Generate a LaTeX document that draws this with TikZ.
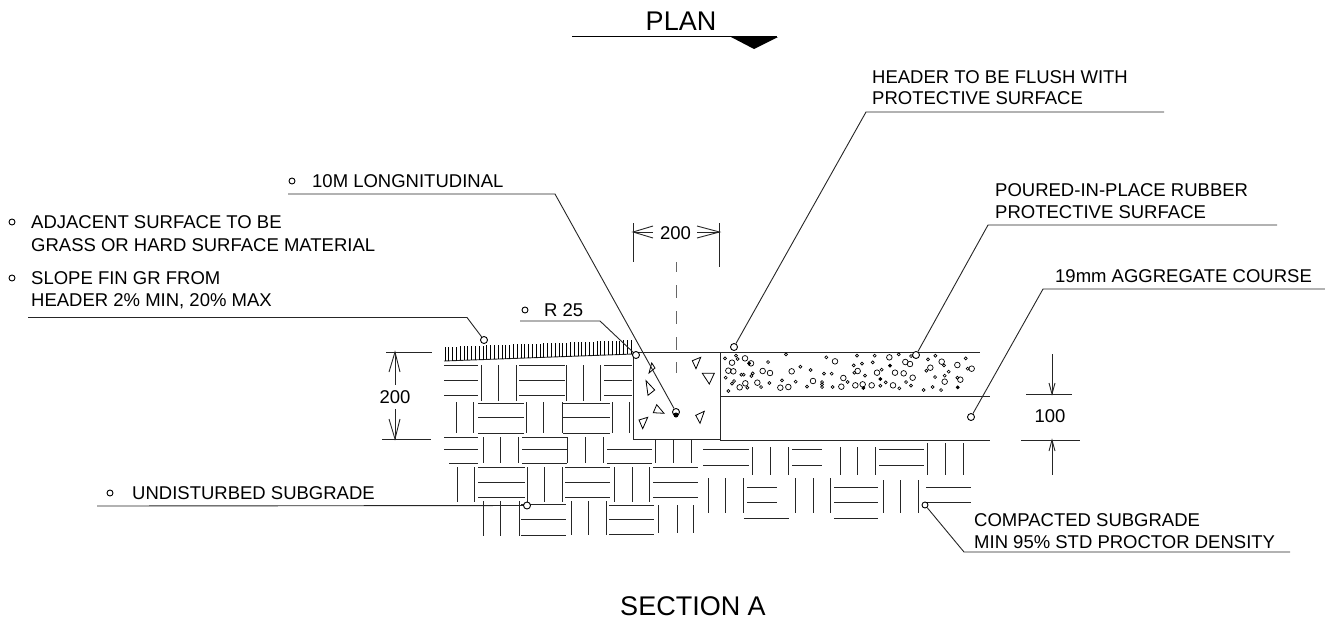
\documentclass[tikz,border=0pt]{standalone}
\usepackage{fontspec}
\setmainfont{Liberation Sans}
\tikzset{
 ln/.style={line width=0.9pt,black!85},
 thick ln/.style={line width=1pt,black!85},
 lab/.style={anchor=west,inner sep=0pt,font=\fontsize{18.5}{18.5}\selectfont},
 ttl/.style={inner sep=0pt,font=\fontsize{27}{27}\selectfont},
 dimt/.style={inner sep=0pt,font=\fontsize{18.5}{18.5}\selectfont,fill=white},
 ring/.style={circle,draw,line width=0.9pt,inner sep=0pt,minimum size=7pt,fill=white},
}
\begin{document}
\begin{tikzpicture}[x=1pt,y=-1pt]
\useasboundingbox (0,0) rectangle (1325,622);
% titles
\node[ttl] (plan) at (681,21) {PLAN};
\draw[line width=1pt] (572,36) -- (777,36);
\fill (731,37) -- (778,37) -- (754,49) -- cycle;
\node[ttl] (sec) at (693,606) {SECTION A};
% ground pattern
\begin{scope}[ln]
\foreach \xa/\xb/\y in {444/478/380,444/478/395,519/565/365,519/565/380,519/565/395,604/632/365,604/632/380,604/632/395,
 478/524/403,478/524/417,478/524/433,563/610/403,563/610/417,563/610/433,
 444/478/437,444/478/449,449/478/463,522/567/437,522/567/449,522/567/463,607/652/449,607/652/463,
 703/749/449,703/749/465,792/822/449,792/822/465,879/924/449,879/924/465,
 478/525/467,478/525/482,478/525/497,565/610/467,565/610/482,565/610/497,653/698/467,653/698/482,653/698/497,
 747/777/487,747/777/502,744/789/518,834/878/487,834/878/502,834/878/518,926/971/487,926/971/502,
 521/566/504,521/566/519,521/566/535,609/654/505,609/654/519,609/654/534,444/478/365}
 {\draw (\xa,\y) -- (\xb,\y);}
\foreach \x/\ya/\yb in {481/365/401,498/365/401,516/365/401,566/365/401,583/365/401,600/365/401,
 456/402/433,473/402/433,526/402/433,543/402/433,562/402/433,612/402/433,629/402/433,
 483/437/463,500/437/463,518/437/463,567/437/463,585/437/463,603/437/463,655/438/463,673/438/463,691/438/463,
 752/447/475,770/447/475,788/447/475,840/447/475,857/447/475,875/447/475,927/443/475,945/443/475,963/443/475,
 457/467/502,474/467/502,527/467/502,544/467/502,562/467/502,614/467/502,632/467/502,649/467/502,
 708/478/513,725/478/513,743/478/513,795/478/513,813/478/513,830/478/513,883/480/513,900/480/513,918/480/513,
 483/501/536,500/501/536,519/501/536,571/501/535,588/501/535,606/501/535,658/505/533,677/505/533,693/505/533}
 {\draw (\x,\ya) -- (\x,\yb);}
\end{scope}
% finished grade hatching
\draw[ln] (444,361) -- (634,354);
\foreach \i in {0,...,49}{
 \draw[line width=0.7pt] ({445+3.8*\i},{361-0.0368*3.8*\i}) -- ({445+3.8*\i},{347-0.0368*3.8*\i});
}
% header and layers
\draw[thick ln,fill=white] (633,352) rectangle (720,439);
\draw[thick ln] (720,352) -- (980,352);
\draw[thick ln] (720,396) -- (990,396);
\draw[thick ln] (720,440) -- (990,440);
\draw[thick ln] (720,352) -- (720,440);
% aggregate triangles
\foreach \a/\b/\c/\d/\e/\f in {651.7/363/655/368/649/373,692.3/360.7/700.7/357.3/696/368.7,702.3/373.3/714.3/373.3/709.3/384,646/380.7/654.7/390/648/395.3,653.3/412.7/656.7/404.7/664/413.3,639/420/647.7/417.3/642.7/428.7,695.7/415.3/704.3/411.3/700/423.3}
 {\draw[line width=0.8pt] (\a,\b) -- (\c,\d) -- (\e,\f) -- cycle;}
% rubber surface
\foreach \X/\Y in {96/98,135/85,153/100,85/122,100/124,188/123,210/129,275/124,136/160,119/172,172/158,241/173,265/171,339/153,405/94,430/144,424/170,466/166,488/163,515/166,473/123,531/128,568/82,585/128,611/130,638/143,579/166,616/96,630/102,691/113,725/95,772/105,815/116,781/149,734/155}
 {\draw[line width=0.7pt] ({700+\X/3},{330+\Y/3}) circle (2.8);}
\foreach \X/\Y in {75/85,108/77,113/87,147/100,204/96,258/73,301/110,332/120,379/82,372/131,395/131,461/106,486/101,471/77,524/77,518/97,545/119,596/73,633/78,684/88,706/77,732/106,746/125,679/122,705/141,734/137,797/85,803/116,772/143,124/134,131/134,158/130,154/138,77/143,102/153,96/161,142/173,85/183,183/171,208/159,246/151,287/155,321/170,366/156,366/163,366/171,398/171,443/156,463/128,495/137,490/174,541/167,557/157,598/175,618/156,633/167,671/180,698/171,723/180,773/172,541/147,570/107}
 {\draw[line width=0.7pt] ({700+\X/3},{330+\Y/3}) circle (1.5);}
\foreach \X/\Y in {148/100,570/107,541/147,773/172,490/174}
 {\fill ({700+\X/3},{330+\Y/3}) circle (1.6);}
% 200 top dimension
\draw[ln] (633,223) -- (633,262);
\draw[ln] (719.500,223) -- (719.500,267);
\node[dimt] (dt) at (675.500,233) {200};
\draw[ln] (633,232) -- (653,232);
\draw[ln] (697,232) -- (719.500,232);
\draw[ln] (653,226) -- (633,232) -- (653,238);
\draw[ln] (697,226) -- (719.500,232) -- (697,238);
\draw[ln,black!60] (676,262) -- (676,272) (676,285) -- (676,298) (676,311) -- (676,324) (676,337) -- (676,350);
\draw[ln,black!60] (676,362) -- (676,373);
% 200 left dimension
\draw[ln] (386,352) -- (432,352);
\draw[ln] (382,439) -- (431,439);
\node[dimt] (dl) at (395,397) {200};
\draw[ln] (395,352) -- (395,385) (395,409) -- (395,439);
\draw[ln] (389,372) -- (395,352) -- (400,372);
\draw[ln] (389,419) -- (395,439) -- (400,419);
% 100 dimension
\draw[ln] (1026,394) -- (1072,394);
\draw[ln] (1021,440) -- (1080,440);
\node[dimt] (dr) at (1050,416) {100};
\draw[ln] (1052,354) -- (1052,394) (1052,440) -- (1052,475);
\draw[ln] (1049,383) -- (1052,394) -- (1055,383);
\draw[ln] (1049,451) -- (1052,440) -- (1055,451);
% labels
\node[lab] (t1) at (872,77) {HEADER TO BE FLUSH WITH};
\node[lab] (t2) at (872,98) {PROTECTIVE SURFACE};
\node[lab] (t3) at (995,190) {POURED-IN-PLACE RUBBER};
\node[lab] (t4) at (995,212) {PROTECTIVE SURFACE};
\node[lab] (t5) at (1055,276) {19mm AGGREGATE COURSE};
\node[lab] (t6) at (312,181) {10M LONGNITUDINAL};
\node[lab] (t7) at (31,222) {ADJACENT SURFACE TO BE};
\node[lab] (t8) at (31,245) {GRASS OR HARD SURFACE MATERIAL};
\node[lab] (t9) at (31,278) {SLOPE FIN GR FROM};
\node[lab] (t10) at (31,301) {HEADER 2\% MIN, 20\% MAX};
\node[lab] (t11) at (544,310) {R 25};
\node[lab] (t12) at (132,493) {UNDISTURBED SUBGRADE};
\node[lab] (t13) at (974,520) {COMPACTED SUBGRADE};
\node[lab] (t14) at (974,542) {MIN 95\% STD PROCTOR DENSITY};
% bullets and terminals
\node[ring,minimum size=6pt] (b1) at (292,181) {};
\node[ring,minimum size=6pt] (b2) at (12,222) {};
\node[ring,minimum size=6pt] (b3) at (12,278) {};
\node[ring,minimum size=6pt] (b4) at (525,310) {};
\node[ring,minimum size=6pt] (b5) at (110,493) {};
\coordinate (e1) at (866,112); \coordinate (e1b) at (1164,112);
\coordinate (e2) at (988,225); \coordinate (e2b) at (1277,225);
\coordinate (e3) at (1043,289); \coordinate (e3b) at (1325,289);
\coordinate (e4) at (555,194); \coordinate (e4b) at (288,194);
\coordinate (e5) at (28,317.500); \coordinate (e5b) at (467,317.500);
\coordinate (e6) at (520,321); \coordinate (e6b) at (600,321);
\coordinate (e7) at (97,506);
\coordinate (e8) at (964,552); \coordinate (e8b) at (1290,552);
\node[ring] (c1) at (734,347) {};
\node[ring] (c2) at (916,355) {};
\node[ring] (c3) at (971,417) {};
\node[ring] (c4) at (676,412) {};
\fill (676,415) circle (2.5);
\node[ring] (c5) at (484,340) {};
\node[ring] (c6) at (636,355) {};
\node[ring] (c7) at (527,505.500) {};
\node[ring,minimum size=6pt] (c8) at (925,505) {};
\draw[ln] (e1b) -- (e1) -- (c1);
\draw[ln] (e2b) -- (e2) -- (c2);
\draw[ln] (e3b) -- (e3) -- (c3);
\draw[ln] (e4b) -- (e4) -- (c4);
\draw[ln] (e5) -- (e5b) -- (c5);
\draw[ln] (e6) -- (e6b) -- (c6);
\draw[ln] (e7) -- (c7);
\draw[ln] (e8b) -- (e8) -- (c8);
\end{tikzpicture}
\end{document}
